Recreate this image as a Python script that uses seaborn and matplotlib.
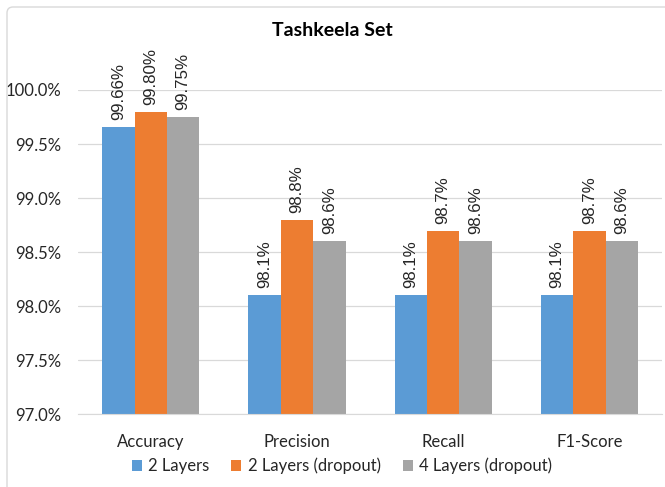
import matplotlib
matplotlib.use("Agg")
import matplotlib.pyplot as plt
import pandas as pd
import seaborn as sns
from matplotlib.patches import FancyBboxPatch
from matplotlib.ticker import FuncFormatter, MultipleLocator

categories = ["Accuracy", "Precision", "Recall", "F1-Score"]
series = ["2 Layers", "2 Layers (dropout)", "4 Layers (dropout)"]
values = {
    "2 Layers": [99.66, 98.1, 98.1, 98.1],
    "2 Layers (dropout)": [99.80, 98.8, 98.7, 98.7],
    "4 Layers (dropout)": [99.75, 98.6, 98.6, 98.6],
}
labels = {
    "2 Layers": ["99.66%", "98.1%", "98.1%", "98.1%"],
    "2 Layers (dropout)": ["99.80%", "98.8%", "98.7%", "98.7%"],
    "4 Layers (dropout)": ["99.75%", "98.6%", "98.6%", "98.6%"],
}
colors = ["#5B9BD5", "#ED7D31", "#A5A5A5"]

rows = [
    {"metric": c, "model": s, "value": values[s][i]}
    for s in series
    for i, c in enumerate(categories)
]
df = pd.DataFrame(rows)

sns.set_style("white")
plt.rcParams["font.family"] = ["Lato", "DejaVu Sans"]

fig = plt.figure(figsize=(6.65, 4.87), dpi=100)
ax = fig.add_axes([0.1168, 0.1493, 0.8793, 0.6659])

sns.barplot(
    data=df, x="metric", y="value", hue="model",
    order=categories, hue_order=series, palette=colors,
    width=0.665, saturation=1, linewidth=0, ax=ax, legend=True,
)

ax.set_ylim(97.0, 100.0)
ax.yaxis.set_major_locator(MultipleLocator(0.5))
ax.yaxis.set_major_formatter(FuncFormatter(lambda v, _: f"{v:.1f}%"))
ax.grid(axis="y", color="#D9D9D9", linewidth=0.9)
ax.set_axisbelow(True)
for side in ["top", "right", "left"]:
    ax.spines[side].set_visible(False)
ax.spines["bottom"].set_color("#D9D9D9")
ax.tick_params(axis="both", length=0, labelsize=12, colors="#262626")
ax.tick_params(axis="x", pad=14)
ax.tick_params(axis="y", pad=12)
ax.set_xlabel("")
ax.set_ylabel("")

for cont, s in zip(ax.containers, series):
    ax.bar_label(cont, labels=labels[s], rotation=90, padding=5,
                 fontsize=12.2, color="#262626", family="Liberation Sans")

ax.legend(
    loc="center", bbox_to_anchor=(0.452, -0.16), ncol=3, frameon=False,
    fontsize=12, handlelength=0.6, handleheight=0.6, handletextpad=0.4,
    columnspacing=1.3, labelcolor="#262626",
)

fig.text(0.5, 0.937, "Tashkeela Set", ha="center", va="center",
         fontsize=14, fontweight="bold", color="black")

# chart border (display coords, origin bottom-left)
fig.patches.append(FancyBboxPatch(
    (7, -60), 700, 540, boxstyle="round,pad=0,rounding_size=6",
    transform=None, facecolor="none", edgecolor="#D9D9D9", linewidth=1,
    figure=fig,
))

fig.savefig("out.png", dpi=100)
